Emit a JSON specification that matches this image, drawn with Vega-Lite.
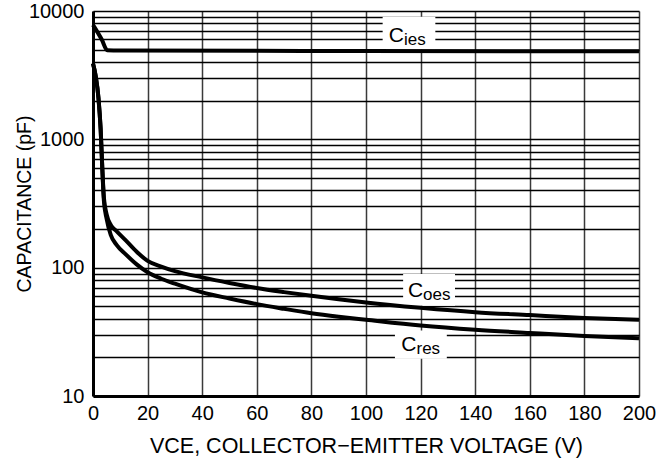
{
  "$schema": "https://vega.github.io/schema/vega-lite/v6.json",
  "width": 546,
  "height": 385,
  "autosize": {"type": "none"},
  "padding": {"left": 93, "top": 11, "right": 25, "bottom": 70},
  "background": "white",
  "config": {
    "view": {"stroke": null},
    "font": "Liberation Sans",
    "axis": {"labelFont": "Liberation Sans", "titleFont": "Liberation Sans", "labelColor": "black", "titleColor": "black", "titleFontWeight": "normal", "labelFontSize": 20, "titleFontSize": 21.5, "ticks": false, "grid": true, "gridOpacity": 1, "domainColor": "black", "domainWidth": 3, "labelFlush": false},
    "axisX": {"titlePadding": 12, "labelPadding": 7, "gridColor": "#3a3a3a", "gridWidth": 1.5},
    "axisY": {"titlePadding": -6, "titleFontSize": 19.5, "labelPadding": 9, "gridColor": "black", "gridWidth": 1.3, "labelOverlap": false}
  },
  "datasets": {
    "curves": [
      {"curve": "Cies", "v": 0, "c": 7800},
      {"curve": "Cies", "v": 3.2, "c": 6000},
      {"curve": "Cies", "v": 5.2, "c": 4950},
      {"curve": "Cies", "v": 10, "c": 4920},
      {"curve": "Cies", "v": 100, "c": 4880},
      {"curve": "Cies", "v": 200, "c": 4850},
      {"curve": "Coes", "v": 0, "c": 3900},
      {"curve": "Coes", "v": 1, "c": 3100},
      {"curve": "Coes", "v": 2, "c": 2100},
      {"curve": "Coes", "v": 2.8, "c": 1200},
      {"curve": "Coes", "v": 3.4, "c": 600},
      {"curve": "Coes", "v": 4, "c": 350},
      {"curve": "Coes", "v": 5, "c": 260},
      {"curve": "Coes", "v": 6.5, "c": 215},
      {"curve": "Coes", "v": 8.7, "c": 192},
      {"curve": "Coes", "v": 12, "c": 163},
      {"curve": "Coes", "v": 16, "c": 133},
      {"curve": "Coes", "v": 20, "c": 113},
      {"curve": "Coes", "v": 25, "c": 102},
      {"curve": "Coes", "v": 30, "c": 94},
      {"curve": "Coes", "v": 40, "c": 84},
      {"curve": "Coes", "v": 50, "c": 76},
      {"curve": "Coes", "v": 60, "c": 69.4},
      {"curve": "Coes", "v": 70, "c": 64.5},
      {"curve": "Coes", "v": 80, "c": 60.4},
      {"curve": "Coes", "v": 90, "c": 56.8},
      {"curve": "Coes", "v": 100, "c": 53.6},
      {"curve": "Coes", "v": 120, "c": 48.7},
      {"curve": "Coes", "v": 140, "c": 45},
      {"curve": "Coes", "v": 160, "c": 42.7},
      {"curve": "Coes", "v": 180, "c": 40.6},
      {"curve": "Coes", "v": 200, "c": 39.3},
      {"curve": "Cres", "v": 0, "c": 3900},
      {"curve": "Cres", "v": 1, "c": 3100},
      {"curve": "Cres", "v": 2, "c": 2100},
      {"curve": "Cres", "v": 2.8, "c": 1200},
      {"curve": "Cres", "v": 3.4, "c": 600},
      {"curve": "Cres", "v": 4, "c": 330},
      {"curve": "Cres", "v": 5, "c": 240},
      {"curve": "Cres", "v": 6.5, "c": 180},
      {"curve": "Cres", "v": 8.7, "c": 150},
      {"curve": "Cres", "v": 12, "c": 127},
      {"curve": "Cres", "v": 16, "c": 106},
      {"curve": "Cres", "v": 20, "c": 92},
      {"curve": "Cres", "v": 25, "c": 82},
      {"curve": "Cres", "v": 30, "c": 75},
      {"curve": "Cres", "v": 40, "c": 64.2},
      {"curve": "Cres", "v": 50, "c": 57.5},
      {"curve": "Cres", "v": 60, "c": 52},
      {"curve": "Cres", "v": 70, "c": 47.8},
      {"curve": "Cres", "v": 80, "c": 44.2},
      {"curve": "Cres", "v": 90, "c": 41.5},
      {"curve": "Cres", "v": 100, "c": 39.3},
      {"curve": "Cres", "v": 120, "c": 35.4},
      {"curve": "Cres", "v": 140, "c": 32.8},
      {"curve": "Cres", "v": 160, "c": 31},
      {"curve": "Cres", "v": 180, "c": 29.4},
      {"curve": "Cres", "v": 200, "c": 28.2}
    ],
    "labels": [
      {"main": "C", "sub": "ies", "x": 113.9, "y": 5760, "bx1": 106.1, "bx2": 125.4, "by1": 5020, "by2": 9020},
      {"main": "C", "sub": "oes", "x": 120.9, "y": 59.3, "bx1": 113.6, "bx2": 132.6, "by1": 50.4, "by2": 89.3},
      {"main": "C", "sub": "res", "x": 118.5, "y": 22.5, "bx1": 110.6, "bx2": 129.6, "by1": 19.5, "by2": 32.4}
    ]
  },
  "layer": [
    {
      "data": {"name": "labels"},
      "mark": {"type": "rect", "color": "white"},
      "encoding": {
        "x": {"field": "bx1", "type": "quantitative", "scale": {"domain": [0, 200], "nice": false, "zero": false},
          "axis": {"values": [0, 20, 40, 60, 80, 100, 120, 140, 160, 180, 200], "title": "VCE, COLLECTOR−EMITTER VOLTAGE (V)"}},
        "x2": {"field": "bx2"},
        "y": {"field": "by1", "type": "quantitative", "scale": {"type": "log", "domain": [10, 10000], "nice": false},
          "axis": {"values": [10, 20, 30, 40, 50, 60, 70, 80, 90, 100, 200, 300, 400, 500, 600, 700, 800, 900, 1000, 2000, 3000, 4000, 5000, 6000, 7000, 8000, 9000, 10000],
            "labelExpr": "indexof([10, 100, 1000, 10000], datum.value) >= 0 ? format(datum.value, 'd') : ''",
            "title": "CAPACITANCE (pF)"}},
        "y2": {"field": "by2"}
      }
    },
    {
      "data": {"name": "curves"},
      "mark": {"type": "line", "color": "black", "strokeWidth": 4, "interpolate": "monotone"},
      "encoding": {
        "x": {"field": "v", "type": "quantitative",
          "axis": {"values": [0, 20, 40, 60, 80, 100, 120, 140, 160, 180, 200], "title": "VCE, COLLECTOR−EMITTER VOLTAGE (V)"}},
        "y": {"field": "c", "type": "quantitative",
          "axis": {"values": [10, 20, 30, 40, 50, 60, 70, 80, 90, 100, 200, 300, 400, 500, 600, 700, 800, 900, 1000, 2000, 3000, 4000, 5000, 6000, 7000, 8000, 9000, 10000],
            "labelExpr": "indexof([10, 100, 1000, 10000], datum.value) >= 0 ? format(datum.value, 'd') : ''",
            "title": "CAPACITANCE (pF)"}},
        "detail": {"field": "curve"}
      }
    },
    {
      "data": {"name": "labels"},
      "mark": {"type": "text", "align": "right", "baseline": "alphabetic", "fontSize": 21, "font": "Liberation Sans", "color": "black"},
      "encoding": {
        "x": {"field": "x", "type": "quantitative",
          "axis": {"values": [0, 20, 40, 60, 80, 100, 120, 140, 160, 180, 200], "title": "VCE, COLLECTOR−EMITTER VOLTAGE (V)"}},
        "y": {"field": "y", "type": "quantitative",
          "axis": {"values": [10, 20, 30, 40, 50, 60, 70, 80, 90, 100, 200, 300, 400, 500, 600, 700, 800, 900, 1000, 2000, 3000, 4000, 5000, 6000, 7000, 8000, 9000, 10000],
            "labelExpr": "indexof([10, 100, 1000, 10000], datum.value) >= 0 ? format(datum.value, 'd') : ''",
            "title": "CAPACITANCE (pF)"}},
        "text": {"field": "main"}
      }
    },
    {
      "data": {"name": "labels"},
      "mark": {"type": "text", "align": "left", "baseline": "alphabetic", "fontSize": 17, "dy": 3.5, "font": "Liberation Sans", "color": "black"},
      "encoding": {
        "x": {"field": "x", "type": "quantitative",
          "axis": {"values": [0, 20, 40, 60, 80, 100, 120, 140, 160, 180, 200], "title": "VCE, COLLECTOR−EMITTER VOLTAGE (V)"}},
        "y": {"field": "y", "type": "quantitative",
          "axis": {"values": [10, 20, 30, 40, 50, 60, 70, 80, 90, 100, 200, 300, 400, 500, 600, 700, 800, 900, 1000, 2000, 3000, 4000, 5000, 6000, 7000, 8000, 9000, 10000],
            "labelExpr": "indexof([10, 100, 1000, 10000], datum.value) >= 0 ? format(datum.value, 'd') : ''",
            "title": "CAPACITANCE (pF)"}},
        "text": {"field": "sub"}
      }
    }
  ]
}
